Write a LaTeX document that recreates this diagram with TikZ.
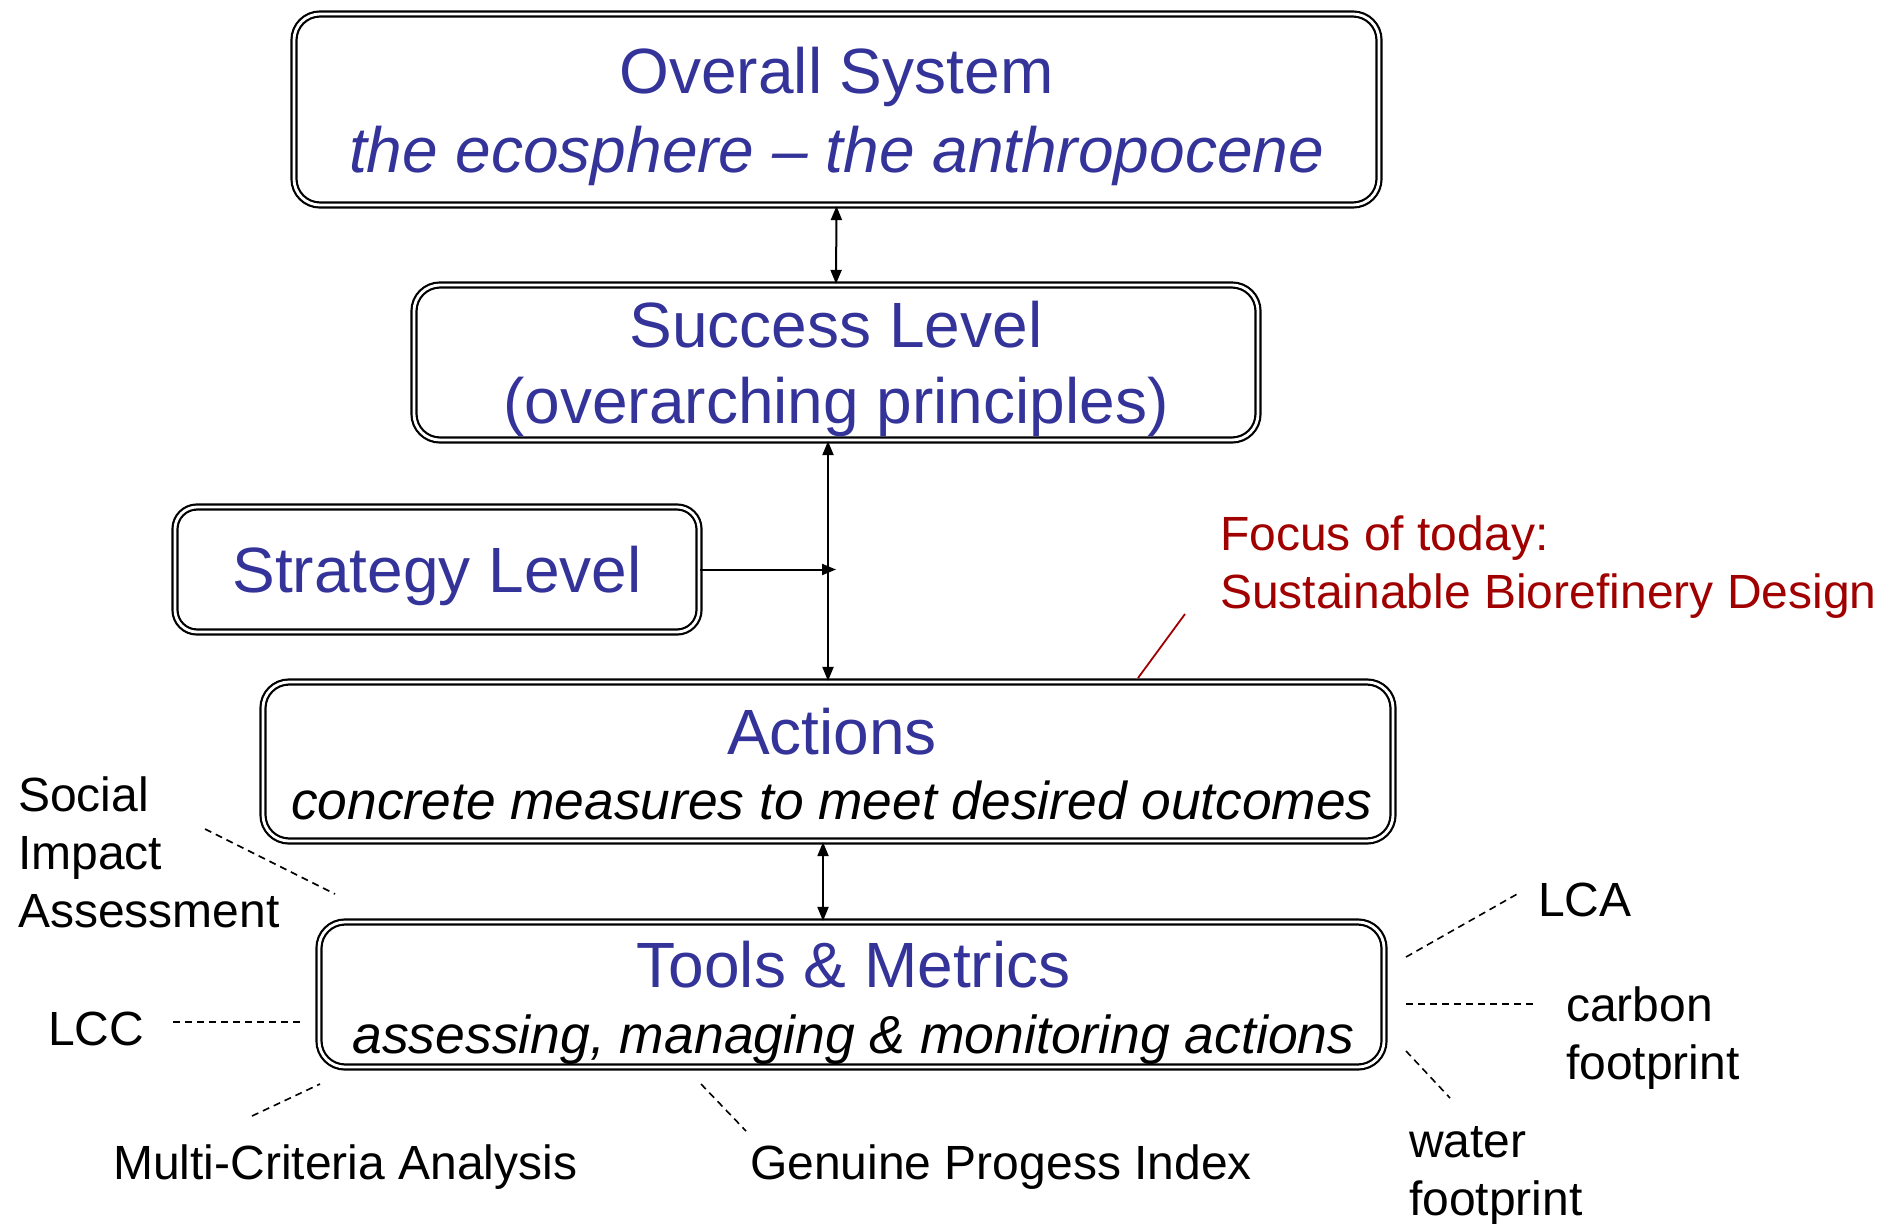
\documentclass[tikz,border=0pt]{standalone}
\usepackage{fontspec}
\setmainfont{Liberation Sans}
\usetikzlibrary{arrows.meta}
\definecolor{tblue}{HTML}{333399}
\definecolor{tred}{HTML}{A00000}
\begin{document}
\begin{tikzpicture}[x=1pt,y=-1pt,
  box/.style={draw=black, line width=2.2pt, double=white, double distance=2.8pt,
    rounded corners=26pt, inner sep=0pt},
  boxtext/.style={inner sep=0pt, align=center, text=tblue},
  link/.style={line width=2pt, {Triangle[length=14pt,width=11pt]}-{Triangle[length=14pt,width=11pt]}},
  onelink/.style={line width=2pt, -{Triangle[length=14pt,width=11pt]}},
  dashlink/.style={line width=1.6pt, dash pattern=on 7pt off 5pt},
  redlink/.style={line width=1.8pt, draw=tred},
  lbl/.style={anchor=west, inner sep=0pt, align=left, font=\fontsize{48}{58}\selectfont}]
\useasboundingbox (0,0) rectangle (1892,1223);

% boxes
\node[box, minimum width=1085pt, minimum height=191pt] (overall) at (836.5,109.5) {};
\node[box, minimum width=844pt, minimum height=155pt] (success) at (836,362.5) {};
\node[box, minimum width=524pt, minimum height=125pt, rounded corners=22pt] (strategy) at (437,569.5) {};
\node[box, minimum width=1130pt, minimum height=159pt] (actions) at (828,761.5) {};
\node[box, minimum width=1065pt, minimum height=145pt] (tools) at (851.5,994.5) {};

% box texts
\node[boxtext, yshift=-7pt, font=\fontsize{64}{79}\selectfont] (overallT) at (overall.center)
  {Overall System\\\itshape the ecosphere – the anthropocene};
\node[boxtext, yshift=-6pt, font=\fontsize{64}{76}\selectfont] (successT) at (success.center)
  {Success Level\\(overarching principles)};
\node[boxtext, yshift=-6pt, font=\fontsize{64}{76}\selectfont] (strategyT) at (strategy.center)
  {Strategy Level};
\node[boxtext, xshift=4pt, yshift=-3pt, font=\fontsize{64}{65}\selectfont] (actionsT) at (actions.center)
  {Actions\\{\fontsize{53.3}{65}\selectfont\itshape\color{black}concrete measures to meet desired outcomes}};
\node[boxtext, xshift=2pt, yshift=-8pt, font=\fontsize{64}{66}\selectfont] (toolsT) at (tools.center)
  {Tools \& Metrics\\{\fontsize{53.5}{66}\selectfont\itshape\color{black}assessing, managing \& monitoring actions}};

% labels
\node[lbl] (sia) at (18,852) {Social\\Impact\\Assessment};
\node[lbl] (lcc) at (48,1029) {LCC};
\node[lbl] (mca) at (113,1167) {Multi-Criteria Analysis};
\node[lbl] (gpi) at (750,1167) {Genuine Progess Index};
\node[lbl] (lca) at (1538,900) {LCA};
\node[lbl] (cf) at (1566,1038.5) {carbon\\footprint};
\node[lbl] (wf) at (1409,1176) {water\\footprint};
\node[lbl, text=tred] (focus) at (1220,567) {Focus of today:\\Sustainable Biorefinery Design};

% arrows
\draw[link] (overall.south) -- (success.north);
\draw[link] (actions.north |- success.south) -- (actions.north);
\coordinate (join) at (836,569.5);
\draw[onelink] (strategy.east) -- (join);
\coordinate (a3) at (823,0);
\draw[link] (a3 |- actions.south) -- (a3 |- tools.north);

% dashed connectors
\coordinate (s1) at (205,829); \coordinate (s2) at (335,894);
\coordinate (l1) at (173,1022); \coordinate (l2) at (302,1022);
\coordinate (m1) at (252,1116); \coordinate (m2) at (320,1084);
\coordinate (g1) at (701,1084); \coordinate (g2) at (746,1131);
\coordinate (c1) at (1406,957); \coordinate (c2) at (1519,893);
\coordinate (k1) at (1406,1004); \coordinate (k2) at (1535,1004);
\coordinate (w1) at (1406,1051); \coordinate (w2) at (1450,1098);
\draw[dashlink] (s1) -- (s2);
\draw[dashlink] (l1) -- (l2);
\draw[dashlink] (m1) -- (m2);
\draw[dashlink] (g1) -- (g2);
\draw[dashlink] (c1) -- (c2);
\draw[dashlink] (k1) -- (k2);
\draw[dashlink] (w1) -- (w2);

% focus pointer
\coordinate (f1) at (1138,678); \coordinate (f2) at (1185,614);
\draw[redlink] (f1) -- (f2);
\end{tikzpicture}
\end{document}
